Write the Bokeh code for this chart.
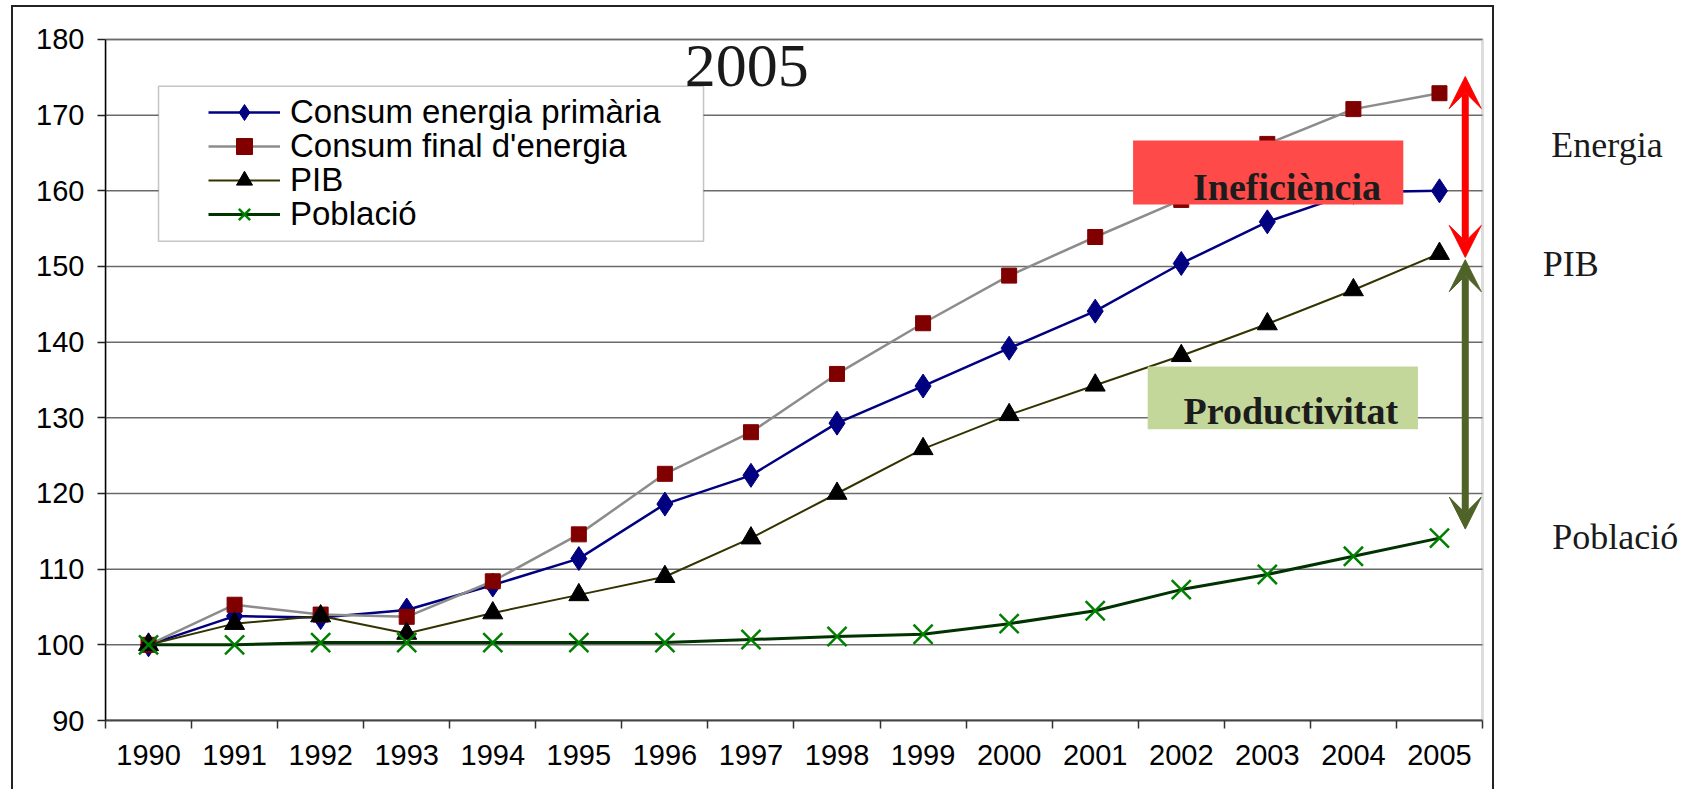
from bokeh.plotting import figure
from bokeh.models import (Legend, LegendItem, Label, BoxAnnotation, Arrow, VeeHead,
                          FixedTicker, Range1d, InlineStyleSheet)
from bokeh.embed import file_html
from bokeh.resources import INLINE

# Index values (1990 = 100)
years = list(range(1990, 2006))
consum_primaria = [100, 103.8, 103.6, 104.6, 107.9, 111.4, 118.6, 122.4, 129.3, 134.2,
                   139.2, 144.1, 150.4, 155.9, 159.8, 160.0]
consum_final = [100, 105.3, 104.0, 103.7, 108.4, 114.6, 122.6, 128.1, 135.8, 142.5,
                148.8, 153.9, 158.8, 166.2, 170.8, 172.9]
pib = [100, 102.8, 103.8, 101.5, 104.2, 106.6, 109.0, 114.1, 120.0, 125.9,
       130.4, 134.3, 138.2, 142.4, 146.9, 151.7]
poblacio = [100, 100.0, 100.3, 100.3, 100.3, 100.3, 100.3, 100.7, 101.1, 101.4,
            102.8, 104.5, 107.3, 109.3, 111.7, 114.1]

series_names = ["Consum energia primària", "Consum final d'energia", "PIB", "Població"]
side_labels = ["Energia", "PIB", "Població"]
y_ticks = list(range(90, 181, 10))

# plot-area extent in data units
X0, X1 = years[0] - 0.5, years[-1] + 0.5
Y0, Y1 = 90, 180

# Annotation anchors (data units)
arrow_x = 2005.30
energy_gap = (151.2, 175.1)
productivity_gap = (115.3, 150.9)

SANS = "Liberation Sans"
SERIF = "Liberation Serif"

# the frame reaches the right and top canvas edges so that the side labels
# can be drawn in data space
p = figure(width=1698, height=789, output_backend="svg", toolbar_location=None,
           x_range=Range1d(X0, 2008.01), y_range=Range1d(Y0, 185.154),
           min_border_left=105, min_border_right=0, min_border_top=0,
           min_border_bottom=69, background_fill_color="white",
           border_fill_color="white")
p.outline_line_color = None
p.grid.visible = False

# slide border
p.stylesheets = [InlineStyleSheet(css="""
:host { position: relative; }
:host::after {
  content: ""; position: absolute; left: 11px; top: 5px; width: 1483px; height: 784px;
  box-sizing: border-box; border-top: 2px solid #222; border-left: 2px solid #222;
  border-right: 2px solid #222; pointer-events: none;
}
""")]

# plot-area border, drawn beneath everything else
p.add_layout(BoxAnnotation(left=X0, right=X1, top=Y1, bottom=Y0, level="underlay",
                           fill_color="white", fill_alpha=1,
                           line_color="#8f8f8f", line_width=3))

# horizontal gridlines
p.segment(x0=[X0] * len(y_ticks), x1=[X1] * len(y_ticks), y0=y_ticks, y1=y_ticks,
          line_color="#6b6b6b", line_width=1.5)

# y axis
p.yaxis.bounds = (Y0, Y1)
p.yaxis.ticker = FixedTicker(ticks=y_ticks)
p.yaxis.axis_line_color = "black"
p.yaxis.axis_line_width = 1.5
p.yaxis.major_tick_line_color = "#222222"
p.yaxis.major_tick_line_width = 1.5
p.yaxis.major_tick_out = 8
p.yaxis.major_tick_in = 0
p.yaxis.minor_tick_line_color = None
p.yaxis.major_label_standoff = 13
p.yaxis.major_label_text_font = SANS
p.yaxis.major_label_text_font_size = "29px"
p.yaxis.major_label_text_color = "black"

# x axis: labels at year centres, tick marks between years
p.xaxis.bounds = (X0, X1)
p.xaxis.ticker = FixedTicker(ticks=years, minor_ticks=[y - 0.5 for y in years] + [X1])
p.xaxis.major_label_overrides = {y: str(y) for y in years}
p.xaxis.axis_line_color = "#444444"
p.xaxis.axis_line_width = 2
p.xaxis.major_tick_line_color = None
p.xaxis.major_tick_out = 8
p.xaxis.major_tick_in = 0
p.xaxis.minor_tick_line_color = "#333333"
p.xaxis.minor_tick_line_width = 1.5
p.xaxis.minor_tick_out = 8
p.xaxis.minor_tick_in = 0
p.xaxis.major_label_standoff = 16
p.xaxis.major_label_text_font = SANS
p.xaxis.major_label_text_font_size = "29px"
p.xaxis.major_label_text_color = "black"

# series
l1 = p.line(years, consum_primaria, line_color="#000080", line_width=2.5)
m1 = p.scatter(years, consum_primaria, marker="diamond", size=24,
               fill_color="#000080", line_color="#000080")
l2 = p.line(years, consum_final, line_color="#8c8c8c", line_width=2.5)
m2 = p.scatter(years, consum_final, marker="square", size=15,
               fill_color="#800000", line_color="#800000")
l3 = p.line(years, pib, line_color="#333300", line_width=2)
m3 = p.scatter(years, pib, marker="triangle", size=20,
               fill_color="black", line_color="black")
l4 = p.line(years, poblacio, line_color="#003300", line_width=3)
m4 = p.scatter(years, poblacio, marker="x", size=27, line_color="#008000", line_width=2.5)

# legend panel
p.add_layout(BoxAnnotation(left=1990.116, right=1996.449, top=173.83, bottom=153.34,
                           fill_color="white", fill_alpha=1,
                           line_color="#404040", line_width=1.5))
# one row per entry, stacked 34 px apart
legend_rows = [(series_names[0], [l1, m1]), (series_names[1], [l2, m2]),
               (series_names[2], [l3, m3]), (series_names[3], [l4, m4])]
for i, (name, rends) in enumerate(legend_rows):
    p.add_layout(Legend(items=[LegendItem(label=name, renderers=rends)],
                        location=(103, 588 - 34 * i), glyph_width=72, glyph_height=40,
                        label_height=40, label_standoff=10, padding=0, spacing=0, margin=0,
                        border_line_alpha=0, background_fill_alpha=0,
                        label_text_font=SANS, label_text_font_size="33px",
                        label_text_color="black"))

# highlighted callouts
p.add_layout(BoxAnnotation(left=2001.44, right=2004.58, top=166.66, bottom=158.2,
                           fill_color="#ff4a4a", fill_alpha=1, line_alpha=0))
p.add_layout(Label(x=2004.32, y=160.48, text="Ineficiència", text_align="right",
                   text_baseline="alphabetic", text_font=SERIF, text_font_style="bold",
                   text_font_size="38px", text_color="#1c1c1c"))
p.add_layout(BoxAnnotation(left=2001.61, right=2004.75, top=136.8, bottom=128.5,
                           fill_color="#c4d79b", fill_alpha=1, line_alpha=0))
p.add_layout(Label(x=2004.52, y=130.88, text="Productivitat", text_align="right",
                   text_baseline="alphabetic", text_font=SERIF, text_font_style="bold",
                   text_font_size="38px", text_color="#1c1c1c"))

# double-headed arrows
p.add_layout(Arrow(x_start=arrow_x, y_start=energy_gap[0], x_end=arrow_x, y_end=energy_gap[1],
                   line_color="#ff0000", line_width=7,
                   start=VeeHead(size=32, fill_color="#ff0000", line_color="#ff0000"),
                   end=VeeHead(size=32, fill_color="#ff0000", line_color="#ff0000")))
p.add_layout(Arrow(x_start=arrow_x, y_start=productivity_gap[0], x_end=arrow_x,
                   y_end=productivity_gap[1], line_color="#4f6228", line_width=7,
                   start=VeeHead(size=32, fill_color="#4f6228", line_color="#4f6228"),
                   end=VeeHead(size=32, fill_color="#4f6228", line_color="#4f6228")))

# title
p.add_layout(Label(x=1996.95, y=176.47, text="2005", text_align="center",
                   text_baseline="alphabetic", text_font=SERIF, text_font_size="62px",
                   text_color="#1a1a1a"))

# side labels
for txt, lx, ly in zip(side_labels, [2006.30, 2006.20, 2006.31], [166.12, 150.39, 114.31]):
    p.add_layout(Label(x=lx, y=ly, text=txt, text_align="left", text_baseline="alphabetic",
                       text_font=SERIF, text_font_size="36px", text_color="#1a1a1a"))

open("out.html", "w").write(file_html(p, INLINE))
